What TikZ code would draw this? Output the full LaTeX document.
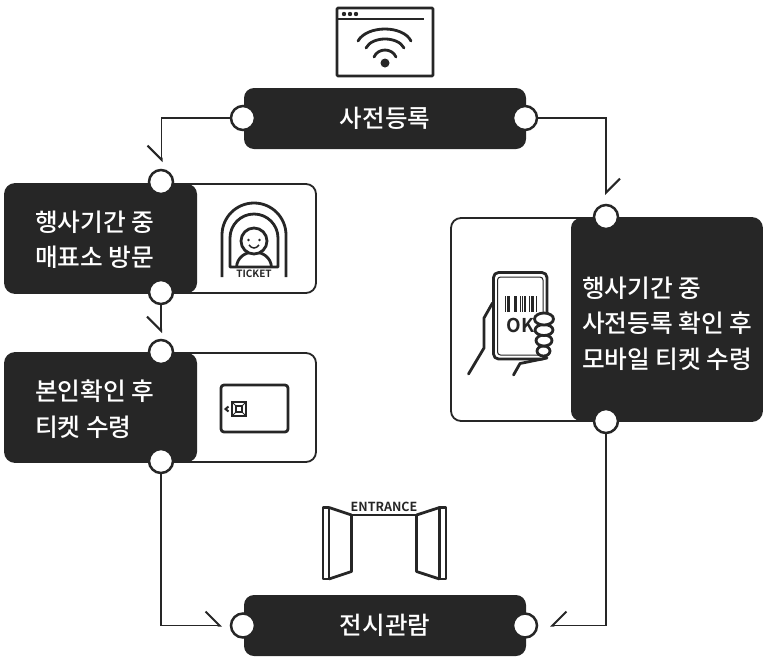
\documentclass[tikz,border=0pt]{standalone}
\usepackage{fontspec}
\setmainfont{Noto Sans CJK KR Medium}[BoldFont={Noto Sans CJK KR Bold}]
\usetikzlibrary{arrows.meta, positioning}
\definecolor{inkblack}{HTML}{262626}

\begin{document}
\begin{tikzpicture}[
    x=1pt, y=-1pt,
    darkbox/.style={rectangle, rounded corners=10pt, fill=inkblack, minimum width=282pt, minimum height=61pt, inner sep=0pt, text=white, font=\fontsize{24.5}{28}\selectfont},
    panel/.style={rectangle, rounded corners=10pt, draw=inkblack, line width=1.8pt, fill=white, minimum width=311pt, inner sep=0pt},
    paneltext/.style={anchor=west, align=left, inner sep=0pt, text=white, font=\fontsize{24.7}{35.5}\selectfont},
    port/.style={circle, draw=inkblack, line width=2.5pt, fill=white, minimum size=24pt, inner sep=0pt},
    flow/.style={inkblack, line width=1.5pt, -{Straight Barb[harpoon, length=14pt, width=28pt, line width=2pt]}},
    flowswap/.style={inkblack, line width=1.5pt, -{Straight Barb[harpoon, swap, length=14pt, width=28pt, line width=2pt]}},
    icon/.style={inkblack, line width=2.8pt, line join=round}
]
\useasboundingbox (0,0) rectangle (768,670);

% Main boxes
\node[darkbox] (prereg) at (385, 118.5) {사전등록};
\node[darkbox] (exhibit) at (385, 625.5) {전시관람};

% Left panels
\node[panel, minimum height=109pt, path picture={\fill[inkblack] (path picture bounding box.north west) rectangle ([xshift=192pt]path picture bounding box.south west);}] (visit) at (160.5, 238.5) {};
\node[panel, minimum height=109pt, path picture={\fill[inkblack] (path picture bounding box.north west) rectangle ([xshift=192pt]path picture bounding box.south west);}] (issue) at (160.5, 407.5) {};

% Right panel
\node[panel, minimum height=203pt, path picture={\fill[inkblack] (path picture bounding box.north east) rectangle ([xshift=-191pt]path picture bounding box.south east);}] (mobile) at (606.5, 319.5) {};

% Panel texts
\node[paneltext] (visittext) at (35, 239.5) {행사기간 중\\매표소 방문};
\node[paneltext] (issuetext) at (35, 409) {본인확인 후\\티켓 수령};
\node[paneltext] (mobiletext) at (582, 323.5) {행사기간 중\\사전등록 확인 후\\모바일 티켓 수령};

% Ports
\node[port] (preregl) at (243, 118) {};
\node[port] (preregr) at (525, 118) {};
\node[port] (visitt) at (161, 182) {};
\node[port] (visitb) at (161, 292) {};
\node[port] (issuet) at (161, 352) {};
\node[port] (issueb) at (161, 461) {};
\node[port] (mobilet) at (606, 217) {};
\node[port] (mobileb) at (606, 421) {};
\node[port] (exhibitl) at (243, 625.5) {};
\node[port] (exhibitr) at (525, 625.5) {};

% Connector ends
\coordinate (tipvisit) at (161.5, 162);
\coordinate (tipissue) at (161, 333);
\coordinate (tipmobile) at (606, 195);
\coordinate (tipleft) at (222, 625.5);
\coordinate (tipright) at (550, 625.5);

% Connectors
\draw[flowswap] (preregl.west) -| (tipvisit);
\draw[flow] (preregr.east) -| (tipmobile);
\draw[flowswap] (visitb.south) -- (tipissue);
\draw[flow] (issueb.south) |- (tipleft);
\draw[flowswap] (mobileb.south) |- (tipright);

% Wifi icon
\draw[icon, rounded corners=1pt] (337, 8) rectangle (433, 76);
\draw[icon] (338, 19) -- (424, 19);
\foreach \x in {344, 350, 356} {
    \fill[inkblack] (\x, 14) circle (2.2pt);
}
\fill[inkblack] (385, 63) circle (4.5pt);
\draw[icon, line cap=round] (358, 41) .. controls (367, 25) and (403, 25) .. (411, 41);
\draw[icon, line cap=round] (366, 48) .. controls (372, 36) and (398, 36) .. (404, 48);
\draw[icon, line cap=round] (374, 57) .. controls (378, 47.7) and (392, 47.7) .. (396, 57);

% Ticket icon
\draw[icon] (222, 277) -- (222, 235) arc (180:0:32pt) -- (286, 277);
\draw[icon] (236.5, 267) .. controls (238, 247) and (270, 247) .. (271.5, 267);
\draw[icon, fill=white] (254, 241) circle (13pt);
\draw[icon] (230, 267) -- (230, 238) arc (180:0:24pt) -- (278, 267) -- cycle;
\fill[inkblack] (248.5, 240) circle (1.3pt) (259.5, 240) circle (1.3pt);
\draw[inkblack, line width=1.5pt] (249, 245) .. controls (252, 249) and (256, 249) .. (259, 245);
\node[font=\bfseries\fontsize{10}{10}\selectfont, text=inkblack, inner sep=0pt] (ticketlabel) at (254, 273.5) {TICKET};

% Card icon
\draw[icon, rounded corners=3pt] (221, 385) rectangle (288, 432);
\draw[inkblack, line width=2pt] (228.5, 406.5) -- (225.5, 409) -- (228.5, 411.5);
\draw[inkblack, line width=1.5pt] (232, 402) rectangle (246, 416) (236, 406) rectangle (242, 412);
\draw[inkblack, line width=1pt] (232, 402) -- (236, 406) (246, 402) -- (242, 406) (232, 416) -- (236, 412) (246, 416) -- (242, 412);

% Phone icon
\draw[icon, line cap=round] (492.5, 303) -- (484, 318) -- (484, 348) -- (468.5, 374);
\draw[icon, line cap=round] (547, 358) -- (520, 363.5) -- (513.5, 375);
\draw[icon, fill=white, rounded corners=5pt] (493.5, 272.5) rectangle (547, 359);
\draw[inkblack, line width=1pt, rounded corners=3pt] (497.5, 277) rectangle (543, 355);
\foreach \x/\w in {505/.8, 507/.8, 509/1.6, 514/.8, 516/1.4, 520/.8, 522/.8, 525/1.4, 529/.8, 531/.8, 533/1.4, 536/.8} {
    \draw[inkblack, line width=\w pt] (\x, 296) -- (\x, 312);
}
\node[font=\bfseries\fontsize{19}{19}\selectfont, text=inkblack, inner sep=0pt] (oklabel) at (520.5, 325) {OK};
\draw[icon, fill=white] (543.5, 351) ellipse (6.5pt and 5pt);
\draw[icon, fill=white] (544, 340.5) ellipse (8pt and 5.5pt);
\draw[icon, fill=white] (544, 330) ellipse (9pt and 5.5pt);
\draw[icon, fill=white] (544, 319) ellipse (9.5pt and 6pt);

% Entrance icon
\draw[icon] (323, 507.5) rectangle (329, 579);
\draw[icon] (329, 507.5) -- (351.5, 515) -- (351.5, 571.5) -- (329, 579);
\draw[icon] (351.5, 515) -- (416.5, 515);
\draw[icon] (439.5, 507.5) rectangle (446, 579);
\draw[icon] (439.5, 507.5) -- (416.5, 515) -- (416.5, 571.5) -- (439.5, 579);
\node[font=\bfseries\fontsize{12.5}{12.5}\selectfont, text=inkblack, inner sep=0pt] (entrancelabel) at (384, 506.5) {ENTRANCE};

\end{tikzpicture}
\end{document}
